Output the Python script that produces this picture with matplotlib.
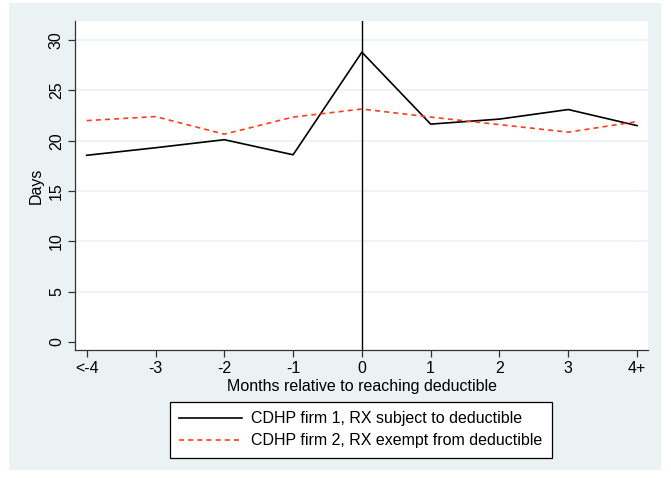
import numpy as np
import matplotlib
matplotlib.use("Agg")
import matplotlib.pyplot as plt
from matplotlib.patches import Rectangle

plt.rcParams['font.family'] = ['Liberation Sans', 'DejaVu Sans']

# Data
months = [-4, -3, -2, -1, 0, 1, 2, 3, 4]
month_labels = ['<-4', '-3', '-2', '-1', '0', '1', '2', '3', '4+']
firm1_days = [18.55, 19.3, 20.1, 18.6, 28.8, 21.65, 22.15, 23.1, 21.5]
firm2_days = [22.0, 22.4, 20.65, 22.35, 23.15, 22.35, 21.6, 20.85, 21.9]
y_ticks = [0, 5, 10, 15, 20, 25, 30]

bg = '#EAF2F3'

fig = plt.figure(figsize=(6.71, 4.78), dpi=100)
fig.patch.set_facecolor('white')
fig.patches.append(Rectangle((0.0134, 0.0167), 0.9717, 0.977,
                             transform=fig.transFigure, facecolor=bg,
                             edgecolor='none', zorder=-5))

ax = fig.add_axes([0.1118, 0.268, 0.854, 0.688])
ax.set_facecolor('white')

for t in y_ticks[1:]:
    ax.axhline(t, color=bg, linewidth=1.2, zorder=1)

l1, = ax.plot(months, firm1_days, color='black', linewidth=1.2, zorder=3,
              label='CDHP firm 1, RX subject to deductible')
l2, = ax.plot(months, firm2_days, color='#FF3A20', linewidth=1.2,
              linestyle=(0, (3, 2.5)), zorder=3,
              label='CDHP firm 2, RX exempt from deductible')
ax.axvline(0, color='black', linewidth=1.0, zorder=2)

ax.set_xlim(-4.17, 4.16)
ax.set_ylim(-0.8, 31.9)
ax.set_xticks(months)
ax.set_xticklabels(month_labels)
ax.set_yticks(y_ticks)
ax.set_yticklabels([str(t) for t in y_ticks], rotation=90, va='center')

for s in ['top', 'right']:
    ax.spines[s].set_visible(False)
for s in ['left', 'bottom']:
    ax.spines[s].set_color('#333333')
    ax.spines[s].set_linewidth(0.9)
ax.tick_params(axis='both', direction='out', length=5, width=0.9,
               color='#333333', labelsize=11.5, pad=3)

ax.set_xlabel('Months relative to reaching deductible', fontsize=11.5, labelpad=2)
ax.set_ylabel('Days', fontsize=11.5, labelpad=4)

leg = fig.legend(handles=[l1, l2], loc='center', bbox_to_anchor=(0.538, 0.101),
                 fontsize=11.5, handlelength=3.9, handletextpad=0.6,
                 borderpad=0.6, labelspacing=0.45, fancybox=False,
                 framealpha=1, edgecolor='black', facecolor='white')
leg.get_frame().set_linewidth(0.9)

fig.savefig('out.png', dpi=100, facecolor=fig.get_facecolor())
